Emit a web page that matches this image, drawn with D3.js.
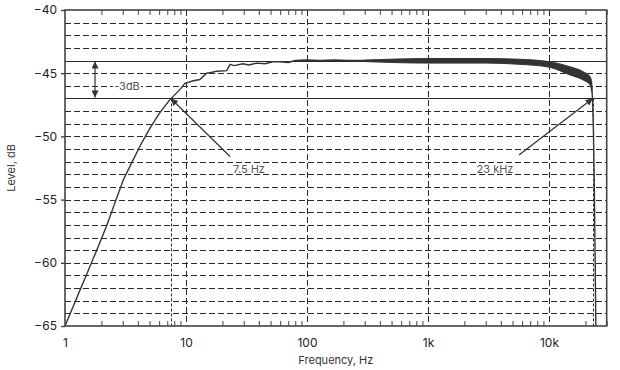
<!DOCTYPE html>
<html>
<head>
<meta charset="utf-8">
<script src="https://cdn.jsdelivr.net/npm/d3@7"></script>
<style>
  body { margin: 0; background: #fff; }
  text { font-family: Inter, "DejaVu Sans", sans-serif; }
</style>
</head>
<body>
<script>
// frequency response
var freqs  = [1, 1.83, 2.2, 2.6, 3.03, 3.6, 4.2, 5, 6, 7.4, 8.9, 9.8, 11.5, 13, 14.8, 15.8, 18, 21.7, 23.1, 25, 29.5, 33, 38.5, 45, 52, 59.8, 70, 80, 99, 130, 170, 220, 300,
              1000, 3080, 5760, 10100, 14900, 19200, 21900, 22600, 22900, 23300, 23700, 24100, 24400];
var levels = [-65, -59, -57.1, -55.2, -53.45, -52, -50.7, -49.4, -48.2, -47.07, -46.3, -45.8, -45.6, -45.5, -45.0, -44.95, -44.85, -44.8, -44.3, -44.4, -44.25, -44.35, -44.2, -44.25, -44.1, -44.1, -44.15, -44.0, -43.95, -44.0, -43.95, -44.0, -44.0,
              -44.02, -44.02, -44.1, -44.3, -44.8, -45.2, -45.6, -46.1, -47.1, -49.5, -54, -60, -65];

// noise band at the top end (upper / lower edge)
var bandFreqs = [300, 1000, 3080, 5760, 10100, 14900, 19200, 21900, 22600];
var bandHi    = [-43.97, -43.84, -43.84, -43.9, -44.09, -44.49, -44.88, -45.28, -45.7];
var bandLo    = [-44.08, -44.2, -44.2, -44.3, -44.53, -45.14, -45.54, -45.93, -46.5];

var xDecades = [1, 10, 100, 1000, 10000];
var xLabels  = ['1', '10', '100', '1k', '10k'];
var yTicks   = [-40, -45, -50, -55, -60, -65];

var cutLow = 7.5, cutHigh = 23000;
var levelRef = -44, level3dB = -47;

var margin = {left: 65, top: 10, right: 13.3, bottom: 44};
var width = 620 - margin.left - margin.right;
var height = 370 - margin.top - margin.bottom;
var ink = '#333';

var svg = d3.select('body')
  .append('svg')
  .attr('width', 620)
  .attr('height', 370);

var defs = svg.append('defs');
defs.append('marker')
  .attr('id', 'head')
  .attr('viewBox', '0 0 10 10')
  .attr('refX', 10).attr('refY', 5)
  .attr('markerWidth', 9).attr('markerHeight', 7)
  .attr('markerUnits', 'userSpaceOnUse')
  .attr('orient', 'auto-start-reverse')
  .append('path')
  .attr('d', 'M0,0L10,5L0,10z')
  .attr('fill', ink);

var x = d3.scaleLog()
    .domain([1, 30000])
    .range([0, width]);

var y = d3.scaleLinear()
    .domain([-65, -40])
    .range([height, 0]);

var g = svg.append('g')
  .attr('transform', 'translate(' + margin.left + ',' + margin.top + ')');

// horizontal dashed grid, every dB
g.selectAll('line.hgrid')
  .data(d3.range(-64, -40))
  .enter()
  .append('line')
  .attr('class', 'hgrid')
  .attr('x1', 0).attr('x2', width)
  .attr('y1', function(d){return Math.round(y(d)) + 0.5;})
  .attr('y2', function(d){return Math.round(y(d)) + 0.5;})
  .attr('stroke', '#2a2a2a')
  .attr('stroke-width', 1)
  .attr('stroke-dasharray', function(d){return (d === levelRef || d === level3dB) ? null : '6,3';});

// vertical dashed grid at decades
g.selectAll('line.vgrid')
  .data(xDecades.slice(1))
  .enter()
  .append('line')
  .attr('class', 'vgrid')
  .attr('x1', function(d){return Math.round(x(d)) + 0.5;})
  .attr('x2', function(d){return Math.round(x(d)) + 0.5;})
  .attr('y1', 0).attr('y2', height)
  .attr('stroke', '#2a2a2a')
  .attr('stroke-dasharray', '6,3');

// cut-off markers
g.selectAll('line.cut')
  .data([cutLow, cutHigh])
  .enter()
  .append('line')
  .attr('class', 'cut')
  .attr('x1', function(d){return Math.round(x(d)) + 0.5;})
  .attr('x2', function(d){return Math.round(x(d)) + 0.5;})
  .attr('y1', function(){return y(level3dB);}).attr('y2', height)
  .attr('stroke', '#2a2a2a')
  .attr('stroke-dasharray', '3,2');

// response
var band = d3.area()
  .x(function(d, i){return x(bandFreqs[i]);})
  .y0(function(d, i){return y(bandLo[i]);})
  .y1(function(d){return y(d);})
  .curve(d3.curveMonotoneX);

g.append('path')
  .attr('d', band(bandHi))
  .attr('fill', ink)
  .attr('stroke', ink)
  .attr('stroke-width', 1);

var line = d3.line()
  .x(function(d, i){return x(freqs[i]);})
  .y(function(d){return y(d);});

g.append('path')
  .attr('d', line(levels))
  .attr('fill', 'none')
  .attr('stroke', ink)
  .attr('stroke-width', 1.4);

// frame
g.append('rect')
  .attr('width', width).attr('height', height)
  .attr('fill', 'none')
  .attr('stroke', '#444')
  .attr('stroke-width', 1.6);

var minor = x.ticks().filter(function(d){return xDecades.indexOf(d) < 0;});

g.append('g')
  .attr('transform', 'translate(0,' + height + ')')
  .call(d3.axisBottom(x).tickValues(minor).tickSize(-5).tickFormat(''))
  .call(function(a){a.select('.domain').remove(); a.selectAll('line').attr('stroke', '#444');});

g.append('g')
  .call(d3.axisTop(x).tickValues(minor).tickSize(-5).tickFormat(''))
  .call(function(a){a.select('.domain').remove(); a.selectAll('line').attr('stroke', '#444');});

g.append('g')
  .attr('transform', 'translate(0,' + height + ')')
  .call(d3.axisBottom(x).tickValues(xDecades).tickSize(0).tickPadding(12)
        .tickFormat(function(d, i){return xLabels[i];}))
  .call(function(a){
    a.select('.domain').remove();
    a.selectAll('text').attr('font-size', 12).attr('fill', '#222').style('font-family', 'Inter, sans-serif');
  });

g.append('g')
  .call(d3.axisLeft(y).tickValues(yTicks).tickSize(4).tickPadding(4))
  .call(function(a){
    a.select('.domain').remove();
    a.selectAll('line').attr('stroke', '#444').attr('stroke-width', 1.4);
    a.selectAll('text').attr('font-size', 12).attr('fill', '#222').style('font-family', 'Inter, sans-serif');
  });

// axis titles
svg.append('text')
  .attr('x', margin.left + width / 2)
  .attr('y', 364)
  .attr('text-anchor', 'middle')
  .attr('font-size', 11)
  .attr('fill', '#333')
  .text('Frequency, Hz');

svg.append('text')
  .attr('transform', 'translate(15,' + (margin.top + height / 2) + ') rotate(-90)')
  .attr('text-anchor', 'middle')
  .attr('font-size', 11)
  .attr('fill', '#333')
  .text('Level, dB');

// -3dB span
var xSpan = 95 - margin.left;
g.append('line')
  .attr('x1', xSpan).attr('x2', xSpan)
  .attr('y1', y(levelRef) + 1).attr('y2', y(level3dB) - 1)
  .attr('stroke', ink).attr('stroke-width', 1.2)
  .attr('marker-start', 'url(#head)')
  .attr('marker-end', 'url(#head)');

g.append('rect')
  .attr('x', 113 - margin.left).attr('y', y(-46) - 7)
  .attr('width', 28).attr('height', 12)
  .attr('fill', '#fff');

g.append('text')
  .attr('x', 127 - margin.left).attr('y', y(-46) + 4)
  .attr('text-anchor', 'middle')
  .attr('font-size', 11)
  .attr('fill', '#555')
  .text('-3dB');

// cut-off arrows and labels
var notes = [
  {f: cutLow, tx: 230, ty: 156.5, lx: 249, label: '7.5 Hz'},
  {f: cutHigh, tx: 519, ty: 155, lx: 495, label: '23 kHz'}
];

g.selectAll('line.note')
  .data(notes)
  .enter()
  .append('line')
  .attr('class', 'note')
  .attr('x1', function(d){return d.tx - margin.left;})
  .attr('y1', function(d){return d.ty - margin.top;})
  .attr('x2', function(d){return x(d.f);})
  .attr('y2', function(){return y(level3dB);})
  .attr('stroke', ink).attr('stroke-width', 1.2)
  .attr('marker-end', 'url(#head)');

g.selectAll('text.note')
  .data(notes)
  .enter()
  .append('text')
  .attr('class', 'note')
  .attr('x', function(d){return d.lx - margin.left;})
  .attr('y', 173 - margin.top)
  .attr('text-anchor', 'middle')
  .attr('font-size', 11)
  .attr('fill', '#555')
  .text(function(d){return d.label;});
</script>
</body>
</html>
